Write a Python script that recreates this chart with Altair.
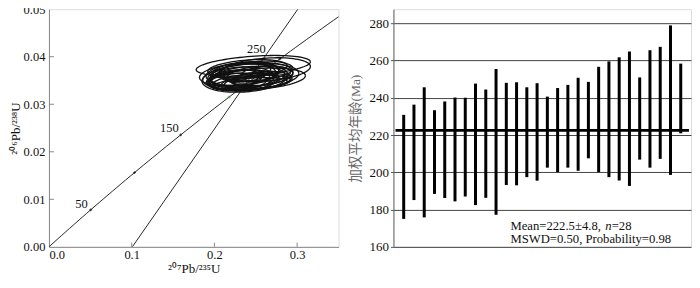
import altair as alt
import pandas as pd
import numpy as np

# ---------------- right panel: weighted mean ages ----------------
spot = list(range(1, 29))
age_hi = [230.8, 236.3, 245.6, 233.3, 238.0, 240.1, 240.0, 247.6, 244.4, 255.4,
          248.0, 248.3, 245.6, 247.8, 240.6, 245.2, 246.9, 250.7, 248.5, 256.6,
          259.5, 261.7, 264.8, 250.9, 265.5, 267.3, 278.8, 258.3]
age_lo = [175.0, 185.1, 175.8, 188.4, 186.2, 184.4, 187.0, 182.4, 186.3, 177.2,
          193.2, 193.0, 197.4, 195.5, 202.5, 200.1, 202.5, 200.8, 207.5, 200.1,
          197.4, 195.6, 192.7, 206.8, 202.5, 207.2, 198.6, 220.9]
mean_age = 222.5
mean_span = [0.2, 28.8]
age_ticks = [160, 180, 200, 220, 240, 260, 280]
stat_lines = ["Mean=222.5±4.8, ", "=28", "MSWD=0.50, Probability=0.98"]
stat_x = [11.4, 21.27, 11.4]
stat_y = [171.2, 171.2, 164.0]
italic_text = ["n"]
italic_x = [20.65]
italic_y = [171.2]

# ---------------- left panel: concordia ----------------
conc_ages = list(range(0, 335, 5))
lam238 = 1.55125e-10
lam235 = 9.8485e-10
mark_ages = [50, 100, 150, 200, 250]
mark_colors = ["#000000", "#000000", "#000000", "#2ca02c", "#000000"]
label_text = ["50", "150", "250"]
label_x = [0.0393, 0.1456, 0.2508]
label_y = [0.0090, 0.0249, 0.0416]
line_x = [0.1008, 0.3008]
line_y = [0.0, 0.050]
x_ticks = [0.0, 0.1, 0.2, 0.3]
y_ticks = [0.0, 0.01, 0.02, 0.03, 0.04, 0.05]

# ellipses: centre x, centre y, semi-axis x, semi-axis y
ell_cx = [0.247, 0.262, 0.250, 0.232, 0.240, 0.228, 0.245, 0.236, 0.255, 0.230,
          0.242, 0.238, 0.250, 0.225, 0.246, 0.234, 0.258, 0.222, 0.244, 0.233,
          0.252, 0.240, 0.228, 0.262, 0.237, 0.248, 0.243, 0.236]
ell_cy = [0.0381, 0.0373, 0.0353, 0.0352, 0.0357, 0.0347, 0.0362, 0.0350, 0.0360, 0.0359,
          0.0367, 0.0343, 0.0370, 0.0354, 0.0348, 0.0364, 0.0352, 0.0349, 0.0358, 0.0370,
          0.0346, 0.0375, 0.0362, 0.0364, 0.0355, 0.0352, 0.0343, 0.0360]
ell_rx = [0.069, 0.054, 0.060, 0.040, 0.045, 0.035, 0.050, 0.042, 0.040, 0.038,
          0.036, 0.030, 0.045, 0.032, 0.048, 0.044, 0.035, 0.030, 0.058, 0.035,
          0.040, 0.048, 0.046, 0.030, 0.052, 0.028, 0.045, 0.025]
ell_ry = [0.0020, 0.0024, 0.0022, 0.0020, 0.0022, 0.0018, 0.0025, 0.0021, 0.0020, 0.0019,
          0.0022, 0.0015, 0.0020, 0.0018, 0.0016, 0.0024, 0.0017, 0.0016, 0.0027, 0.0017,
          0.0014, 0.0018, 0.0023, 0.0016, 0.0029, 0.0014, 0.0012, 0.0012]
ell_tilt = 0.012

SERIF = "Liberation Serif"

# ---------- build tables ----------
bars = pd.DataFrame({"spot": spot, "hi": age_hi, "lo": age_lo})
mean_df = pd.DataFrame({"x": [mean_span[0]], "x2": [mean_span[1]], "y": [mean_age]})
stats = pd.DataFrame({"t": stat_lines, "x": stat_x, "y": stat_y})
ital = pd.DataFrame({"t": italic_text, "x": italic_x, "y": italic_y})

conc = pd.DataFrame({
    "age": conc_ages,
    "x": [np.exp(lam235 * a * 1e6) - 1 for a in conc_ages],
    "y": [np.exp(lam238 * a * 1e6) - 1 for a in conc_ages],
})
marks = pd.DataFrame({
    "x": [np.exp(lam235 * a * 1e6) - 1 for a in mark_ages],
    "y": [np.exp(lam238 * a * 1e6) - 1 for a in mark_ages],
    "c": mark_colors,
})
labels = pd.DataFrame({"t": label_text, "x": label_x, "y": label_y})
line2 = pd.DataFrame({"x": line_x, "y": line_y})

rows = []
tt = np.linspace(0, 2 * np.pi, 91)
for i in range(len(ell_cx)):
    for k, t in enumerate(tt):
        dx = ell_rx[i] * np.cos(t)
        rows.append({"id": i, "k": k,
                     "x": ell_cx[i] + dx,
                     "y": ell_cy[i] + ell_ry[i] * np.sin(t) + ell_tilt * dx})
ell = pd.DataFrame(rows)

xt = pd.DataFrame({"x": x_ticks[1:], "y": [0.0] * 3, "y2": [0.0009] * 3})
yt = pd.DataFrame({"y": y_ticks[1:-1], "x": [0.0] * 4, "x2": [0.006] * 4})

# ---------- left panel ----------
xs = alt.Scale(domain=[0, 0.35], nice=False, zero=False)
ys = alt.Scale(domain=[0, 0.05], nice=False, zero=False)

x_axis = alt.Axis(values=x_ticks, tickCount=10, format=".1f", ticks=False, grid=False,
                  labelFont=SERIF, labelFontSize=12.5, labelColor="#111",
                  labelPadding=2, domainColor="#888",
                  title="²⁰⁷Pb/²³⁵U", titleFont=SERIF, titleFontSize=13,
                  titleFontWeight="normal", titleColor="#111", titlePadding=1)
y_axis = alt.Axis(values=y_ticks, tickCount=10, format=".2f", ticks=False, grid=False,
                  labelFont=SERIF, labelFontSize=12.5, labelColor="#111",
                  labelPadding=4, domainColor="#888",
                  title="²⁰⁶Pb/²³⁸U", titleFont=SERIF, titleFontSize=13,
                  titleFontWeight="normal", titleColor="#111", titlePadding=1)

base_l = alt.Chart(conc).mark_line(color="#111", strokeWidth=0.9, clip=True).encode(
    x=alt.X("x:Q", scale=xs, axis=x_axis),
    y=alt.Y("y:Q", scale=ys, axis=y_axis),
)
ell_layer = alt.Chart(ell).mark_line(color="#111", strokeWidth=1.3, clip=True).encode(
    x=alt.X("x:Q", scale=xs), y=alt.Y("y:Q", scale=ys),
    detail="id:N", order="k:Q")
line_layer = alt.Chart(line2).mark_line(color="#111", strokeWidth=0.9, clip=True).encode(
    x=alt.X("x:Q", scale=xs), y=alt.Y("y:Q", scale=ys))
mark_layer = alt.Chart(marks).mark_point(shape="cross", size=8, filled=True).encode(
    x=alt.X("x:Q", scale=xs), y=alt.Y("y:Q", scale=ys),
    color=alt.Color("c:N", scale=None))
lab_layer = alt.Chart(labels).mark_text(font=SERIF, fontSize=12.5, color="#111").encode(
    x=alt.X("x:Q", scale=xs), y=alt.Y("y:Q", scale=ys), text="t:N")
xt_layer = alt.Chart(xt).mark_rule(color="#888").encode(
    x=alt.X("x:Q", scale=xs), y=alt.Y("y:Q", scale=ys), y2="y2:Q")
yt_layer = alt.Chart(yt).mark_rule(color="#888").encode(
    y=alt.Y("y:Q", scale=ys), x=alt.X("x:Q", scale=xs), x2="x2:Q")

left = alt.layer(ell_layer, base_l, line_layer, mark_layer, lab_layer,
                 xt_layer, yt_layer).properties(width=290, height=238)

# ---------- right panel ----------
bx = alt.Scale(domain=[0, 29], nice=False, zero=False)
by = alt.Scale(domain=[160, 287.5], nice=False, zero=False)

r_axis = alt.Axis(values=age_ticks, tickCount=20, grid=True, gridColor="#444", gridWidth=1,
                  tickSize=3, tickColor="#555", domainColor="#666",
                  labelFont=SERIF, labelFontSize=13, labelColor="#111", labelPadding=2,
                  labelOverlap=False,
                  title="加权平均年龄(Ma)",
                  titleFont="Liberation Serif, Noto Sans CJK SC", titleFontSize=13.5,
                  titleFontWeight="normal", titleColor="#666", titlePadding=6)

bar_layer = alt.Chart(bars).mark_rule(color="#000", strokeWidth=3).encode(
    x=alt.X("spot:Q", scale=bx, axis=None),
    y=alt.Y("lo:Q", scale=by, axis=r_axis),
    y2="hi:Q")
mean_layer = alt.Chart(mean_df).mark_rule(color="#000", strokeWidth=2.6).encode(
    x=alt.X("x:Q", scale=bx), x2="x2:Q", y=alt.Y("y:Q", scale=by))
txt_layer = alt.Chart(stats).mark_text(font=SERIF, fontSize=12.7, color="#111",
                                       align="left").encode(
    x=alt.X("x:Q", scale=bx), y=alt.Y("y:Q", scale=by), text="t:N")
ital_layer = alt.Chart(ital).mark_text(font=SERIF, fontSize=12.7, color="#111",
                                       align="left", fontStyle="italic").encode(
    x=alt.X("x:Q", scale=bx), y=alt.Y("y:Q", scale=by), text="t:N")

right = alt.layer(bar_layer, mean_layer, txt_layer, ital_layer).properties(width=298, height=238)

chart = alt.hconcat(left, right, spacing=55, bounds="flush").properties(
    padding={"left": 0, "top": -6, "right": 0, "bottom": 0}
).configure_view(stroke="#555", strokeWidth=1).configure(background="white")

chart.save("out.html", embed_options={"renderer": "svg", "actions": False})
